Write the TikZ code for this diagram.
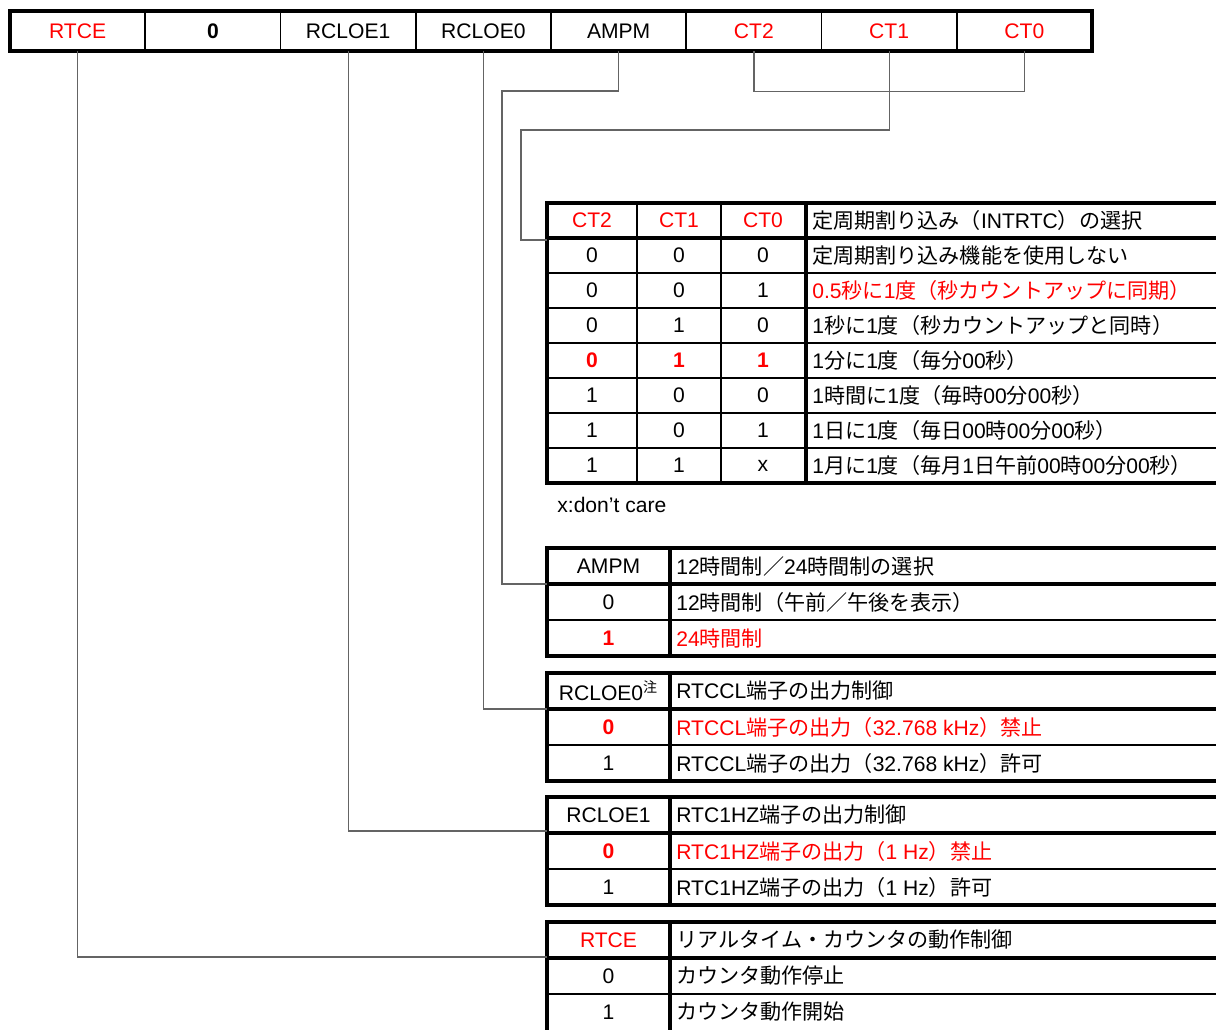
\documentclass[tikz,border=0pt]{standalone}
\usepackage{fontspec}
\setmainfont{Liberation Sans}
\newfontfamily\jpfont{Noto Sans CJK JP}
\newcommand{\jp}[1]{{\jpfont #1}}
\usetikzlibrary{calc,positioning}
\definecolor{bitred}{RGB}{255,0,0}
\definecolor{linkgray}{RGB}{100,100,100}

\begin{document}
\begin{tikzpicture}[x=0.02cm, y=-0.02cm,
	every node/.style={font=\fontsize{12}{14}\selectfont, inner sep=0pt},
	frameline/.style={line width=2.2pt},
	cellline/.style={line width=1.1pt},
	conn/.style={draw=linkgray, line width=0.7pt},
	regcell/.style={minimum width=2.705cm, minimum height=0.8cm},
	keyhot/.style={text=bitred, font=\fontsize{12}{14}\selectfont\bfseries},
	keyplain/.style={},
	desc/.style={anchor=west}]
		\useasboundingbox (0,0) rectangle (1216,1030);
		\clip (0,0) rectangle (1216,1030);
		% register
		\foreach \name/\txt/\col [count=\i from 0] in {rtce/RTCE/bitred, zero/\textbf{0}/black, rcloe1/RCLOE1/black, rcloe0/RCLOE0/black, ampm/AMPM/black, ct2/CT2/bitred, ct1/CT1/bitred, ct0/CT0/bitred}
			\node[regcell, text=\col] (\name) at ({10+135.25*(\i+0.5)},31) {\txt};
		\foreach \i in {1,...,7}
			\draw[cellline] ({10+135.25*\i},11) -- ({10+135.25*\i},51);
		\draw[line width=2.5pt] (10,11) rectangle (1092,51);

		% CT table
		\draw[cellline] (637,203) -- (637,483) (721,203) -- (721,483);
		\foreach \y in {273,308,...,448}
			\draw[cellline] (547,\y) -- (1230,\y);
		\draw[frameline] (1230,203) -| (547,483) -- (1230,483);
		\draw[frameline] (547,238) -- (1230,238) (806,203) -- (806,483);
		\node[text=bitred] (tct2) at (592,220.5) {CT2};
		\node[text=bitred] (tct1) at (679,220.5) {CT1};
		\node[text=bitred] (tct0) at (763,220.5) {CT0};
		\node[desc] (tctd) at (812,220.5) {\jp{定周期割り込み（}INTRTC\jp{）の選択}};
		\foreach \a/\b/\c/\ks/\txt/\ds [count=\i] in {
			0/0/0/keyplain/{\jp{定周期割り込み機能を使用しない}}/black,
			0/0/1/keyplain/{0.5\jp{秒に}1\jp{度（秒カウントアップに同期）}}/bitred,
			0/1/0/keyplain/{1\jp{秒に}1\jp{度（秒カウントアップと同時）}}/black,
			0/1/1/keyhot/{1\jp{分に}1\jp{度（毎分}00\jp{秒）}}/black,
			1/0/0/keyplain/{1\jp{時間に}1\jp{度（毎時}00\jp{分}00\jp{秒）}}/black,
			1/0/1/keyplain/{1\jp{日に}1\jp{度（毎日}00\jp{時}00\jp{分}00\jp{秒）}}/black,
			1/1/x/keyplain/{1\jp{月に}1\jp{度（毎月}1\jp{日午前}00\jp{時}00\jp{分}00\jp{秒）}}/black%
		} {
			\node[\ks] (ct2-\i) at (592,220.5+35*\i) {\a};
			\node[\ks] (ct1-\i) at (679,220.5+35*\i) {\b};
			\node[\ks] (ct0-\i) at (763,220.5+35*\i) {\c};
			\node[desc, text=\ds] (ctd-\i) at (812,220.5+35*\i) {\txt};
		}
		\node[anchor=west] (dontcare) at (557,505) {x:don’t care};

		% two column tables (the last one runs off the bottom)
		\foreach \t/\h in {548/108, 673/108, 797/108, 922/114} {
			\draw[cellline] (547,\t+72) -- (1230,\t+72);
			\draw[frameline] (1230,\t) -| (547,\t+\h) -- (1230,\t+\h);
			\draw[frameline] (547,\t+36) -- (1230,\t+36) (670,\t) -- (670,\t+\h);
		}
		% AMPM
		\node (tampm) at (608.5,566) {AMPM};
		\node[desc] (tampmd) at (676,566) {12\jp{時間制／}24\jp{時間制の選択}};
		\node (ampm-0) at (608.5,602) {0};
		\node[desc] (ampmd-0) at (676,602) {12\jp{時間制（午前／午後を表示）}};
		\node[keyhot] (ampm-1) at (608.5,638) {1};
		\node[desc, text=bitred] (ampmd-1) at (676,638) {24\jp{時間制}};
		% RCLOE0
		\node (trcloe0) at (608.5,691) {RCLOE0\textsuperscript{\jp{注}}};
		\node[desc] (trcloe0d) at (676,691) {RTCCL\jp{端子の出力制御}};
		\node[keyhot] (rcloe0-0) at (608.5,727) {0};
		\node[desc, text=bitred] (rcloe0d-0) at (676,727) {RTCCL\jp{端子の出力（}32.768 kHz\jp{）禁止}};
		\node (rcloe0-1) at (608.5,763) {1};
		\node[desc] (rcloe0d-1) at (676,763) {RTCCL\jp{端子の出力（}32.768 kHz\jp{）許可}};
		% RCLOE1
		\node (trcloe1) at (608.5,815) {RCLOE1};
		\node[desc] (trcloe1d) at (676,815) {RTC1HZ\jp{端子の出力制御}};
		\node[keyhot] (rcloe1-0) at (608.5,851) {0};
		\node[desc, text=bitred] (rcloe1d-0) at (676,851) {RTC1HZ\jp{端子の出力（}1 Hz\jp{）禁止}};
		\node (rcloe1-1) at (608.5,887) {1};
		\node[desc] (rcloe1d-1) at (676,887) {RTC1HZ\jp{端子の出力（}1 Hz\jp{）許可}};
		% RTCE
		\node[text=bitred] (trtce) at (608.5,940) {RTCE};
		\node[desc] (trtced) at (676,940) {\jp{リアルタイム・カウンタの動作制御}};
		\node (rtce-0) at (608.5,976) {0};
		\node[desc] (rtced-0) at (676,976) {\jp{カウンタ動作停止}};
		\node (rtce-1) at (608.5,1012) {1};
		\node[desc] (rtced-1) at (676,1012) {\jp{カウンタ動作開始}};

		% connectors
		\coordinate (inCT) at (547,240);
		\coordinate (inAMPM) at (547,584);
		\coordinate (inRCLOE0) at (547,709);
		\coordinate (inRCLOE1) at (547,831);
		\coordinate (inRTCE) at (547,957);
		\draw[conn] (ct2.south) -- ++(0,40) -| (ct0.south);
		\draw[conn] (ct1.south) |- (521,130) |- (inCT);
		\draw[conn] (ampm.south) |- (502,91) |- (inAMPM);
		\draw[conn] (rcloe0.south) |- (inRCLOE0);
		\draw[conn] (rcloe1.south) |- (inRCLOE1);
		\draw[conn] (rtce.south) |- (inRTCE);
	\end{tikzpicture}
\end{document}
